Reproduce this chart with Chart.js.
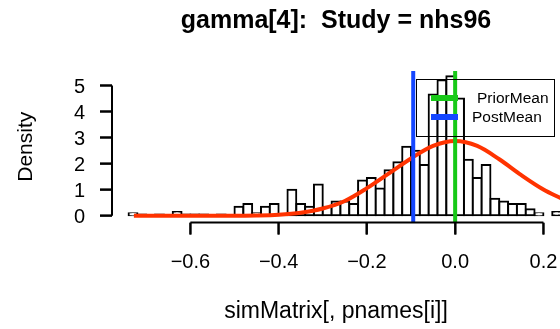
<!DOCTYPE html>
<html>
<head>
<meta charset="utf-8">
<script src="https://cdn.jsdelivr.net/npm/chart.js@4.4.1/dist/chart.umd.min.js"></script>
<style>
  html, body { margin: 0; padding: 0; background: #fff; overflow: hidden; }
  #wrap { width: 560px; height: 329px; }
</style>
</head>
<body>
<div id="wrap"><canvas id="histChart"></canvas></div>
<script>
// histogram of the simulated draws (density scale, bins of 0.02)
const binWidth = 0.02;
const binLeft = [
  -0.74, -0.72, -0.70, -0.68, -0.66, -0.64, -0.62, -0.60, -0.58, -0.56,
  -0.54, -0.52, -0.50, -0.48, -0.46, -0.44, -0.42, -0.40, -0.38, -0.36,
  -0.34, -0.32, -0.30, -0.28, -0.26, -0.24, -0.22, -0.20, -0.18, -0.16,
  -0.14, -0.12, -0.10, -0.08, -0.06, -0.04, -0.02, 0.00, 0.02, 0.04,
  0.06, 0.08, 0.10, 0.12, 0.14, 0.16, 0.18, 0.20, 0.22
];
const density = [
  0.10, 0.05, 0.00, 0.05, 0.00, 0.15, 0.05, 0.05, 0.05, 0.00,
  0.05, 0.00, 0.35, 0.45, 0.10, 0.35, 0.45, 0.00, 1.00, 0.45,
  0.35, 1.20, 0.35, 0.55, 0.55, 0.45, 1.35, 1.45, 1.05, 1.75,
  2.05, 2.65, 2.50, 1.95, 4.65, 5.20, 5.35, 4.50, 2.15, 1.45,
  1.95, 0.65, 0.55, 0.45, 0.45, 0.25, 0.10, 0.00, 0.15
];

// prior density curve
const curveX = [-0.728, -0.65, -0.6, -0.55, -0.5, -0.45, -0.4, -0.35, -0.3, -0.25,
                -0.2, -0.15, -0.1, -0.05, 0, 0.05, 0.1, 0.15, 0.2, 0.24];
const curveY = [0, 0, 0, 0, 0.005, 0.015, 0.045, 0.12, 0.28, 0.57,
                1.06, 1.63, 2.2, 2.68, 2.87, 2.68, 2.17, 1.56, 1.01, 0.67];

const priorMean = 0.0;
const postMean = -0.095;

const xTicks = [-0.6, -0.4, -0.2, 0.0, 0.2];
const xTickLabels = ['\u22120.6', '\u22120.4', '\u22120.2', '0.0', '0.2'];
const yTicks = [0, 1, 2, 3, 4, 5];
const xRange = [-0.7776, 0.2376];
const yRange = [-0.257, 5.556];

const red = '#ff3300';
const green = '#18c918';
const blue = '#1446ff';

Chart.defaults.font.family = "'Liberation Sans', Arial, sans-serif";
Chart.defaults.color = '#000';

// R-style axes: line only from first to last tick, ticks pointing outwards
const axisLines = {
  id: 'axisLines',
  afterDraw(chart) {
    const { ctx, chartArea, scales } = chart;
    const tick = 12;
    ctx.save();
    ctx.strokeStyle = '#000';
    ctx.lineWidth = 2;
    ctx.beginPath();
    ctx.moveTo(scales.x.getPixelForValue(xTicks[0]), chartArea.bottom);
    ctx.lineTo(scales.x.getPixelForValue(xTicks[xTicks.length - 1]), chartArea.bottom);
    xTicks.forEach(v => {
      const px = scales.x.getPixelForValue(v);
      ctx.moveTo(px, chartArea.bottom);
      ctx.lineTo(px, chartArea.bottom + tick);
    });
    ctx.moveTo(chartArea.left, scales.y.getPixelForValue(yTicks[0]));
    ctx.lineTo(chartArea.left, scales.y.getPixelForValue(yTicks[yTicks.length - 1]));
    yTicks.forEach(v => {
      const py = scales.y.getPixelForValue(v);
      ctx.moveTo(chartArea.left, py);
      ctx.lineTo(chartArea.left - tick, py);
    });
    ctx.stroke();
    ctx.restore();
  }
};

// legend box in the top right of the plot
const meanLegend = {
  id: 'meanLegend',
  afterDraw(chart) {
    const { ctx, chartArea } = chart;
    const right = chartArea.right - 6;
    const left = right - 138;
    const top = chartArea.top + 8;
    const bottom = top + 57;
    ctx.save();
    ctx.strokeStyle = '#000';
    ctx.lineWidth = 1;
    ctx.strokeRect(left + 0.5, top + 0.5, right - left, bottom - top);
    const items = [
      { label: 'PriorMean', color: green, y: top + 19, tx: left + 61 },
      { label: 'PostMean', color: blue, y: top + 38, tx: left + 56 }
    ];
    ctx.font = "15.5px 'Liberation Sans', Arial, sans-serif";
    ctx.textBaseline = 'middle';
    ctx.textAlign = 'left';
    items.forEach(it => {
      ctx.strokeStyle = it.color;
      ctx.lineWidth = 6;
      ctx.beginPath();
      ctx.moveTo(left + 15, it.y);
      ctx.lineTo(left + 42, it.y);
      ctx.stroke();
      ctx.fillStyle = '#000';
      ctx.fillText(it.label, it.tx, it.y + 1);
    });
    ctx.restore();
  }
};

new Chart(document.getElementById('histChart'), {
  type: 'bar',
  data: {
    datasets: [
      {
        type: 'line',
        label: 'PriorMean',
        data: [{ x: priorMean, y: yRange[0] }, { x: priorMean, y: yRange[1] }],
        borderColor: green,
        borderWidth: 4,
        pointRadius: 0,
        order: 0
      },
      {
        type: 'line',
        label: 'PostMean',
        data: [{ x: postMean, y: yRange[0] }, { x: postMean, y: yRange[1] }],
        borderColor: blue,
        borderWidth: 4,
        pointRadius: 0,
        order: 1
      },
      {
        type: 'line',
        label: 'prior',
        data: curveX.map((x, i) => ({ x: x, y: curveY[i] })),
        borderColor: red,
        borderWidth: 4,
        pointRadius: 0,
        cubicInterpolationMode: 'monotone',
        fill: false,
        order: 2
      },
      {
        type: 'bar',
        label: 'hist',
        data: binLeft.map((b, i) => ({ x: b + binWidth / 2, y: density[i] > 0 ? density[i] : null })),
        backgroundColor: '#fff',
        borderColor: '#000',
        borderWidth: 2,
        borderSkipped: false,
        inflateAmount: 1,
        barPercentage: 1,
        categoryPercentage: 1,
        order: 3
      }
    ]
  },
  options: {
    responsive: true,
    maintainAspectRatio: false,
    animation: false,
    layout: { padding: 0 },
    plugins: {
      legend: { display: false },
      tooltip: { enabled: false },
      title: {
        display: true,
        text: 'gamma[4]:  Study = nhs96',
        fullSize: false,
        color: '#000',
        font: { size: 25, weight: 'bold' },
        padding: { top: 6, bottom: 35 }
      }
    },
    scales: {
      x: {
        type: 'linear',
        offset: false,
        min: xRange[0],
        max: xRange[1],
        afterBuildTicks: s => { s.ticks = xTicks.map(v => ({ value: v })); },
        afterFit: s => { s.height = 106.5; s.paddingLeft = 0; s.paddingRight = 0; },
        border: { display: false },
        grid: { offset: false, drawOnChartArea: false, drawTicks: true, tickLength: 12, tickColor: '#000', tickWidth: 2 },
        ticks: {
          autoSkip: false,
          maxRotation: 0,
          padding: 16,
          font: { size: 20 },
          callback: (v, i) => xTickLabels[i]
        },
        title: {
          display: true,
          text: 'simMatrix[, pnames[i]]',
          font: { size: 23 },
          padding: { top: 0, bottom: 4 }
        }
      },
      y: {
        type: 'linear',
        min: yRange[0],
        max: yRange[1],
        afterBuildTicks: s => { s.ticks = yTicks.map(v => ({ value: v })); },
        afterFit: s => { s.width = 112; s.paddingTop = 0; s.paddingBottom = 0; },
        border: { display: false },
        grid: { drawOnChartArea: false, drawTicks: true, tickLength: 12, tickColor: '#000', tickWidth: 2 },
        ticks: {
          padding: 15,
          labelOffset: 2,
          font: { size: 20 }
        },
        title: {
          display: true,
          text: 'Density',
          font: { size: 21 },
          padding: { top: 14, bottom: 0 }
        }
      }
    }
  },
  plugins: [axisLines, meanLegend]
});
</script>
</body>
</html>
